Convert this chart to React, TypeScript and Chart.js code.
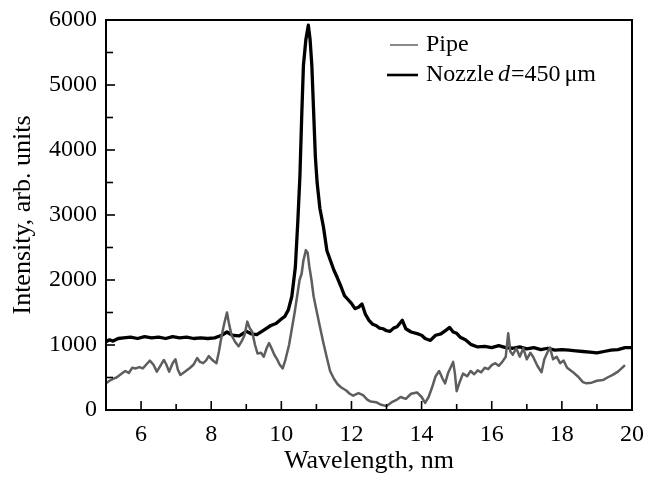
import React, { useEffect, useRef } from 'react';
import { Chart, registerables } from 'chart.js';
Chart.register(...registerables);

const pipeX = [5.0,5.1,5.2,5.3,5.45,5.55,5.65,5.75,5.85,5.95,6.05,6.15,6.25,6.35,6.45,6.55,6.65,6.72,6.8,6.9,6.98,7.05,7.12,7.25,7.4,7.5,7.6,7.68,7.77,7.85,7.93,8.05,8.15,8.22,8.3,8.38,8.45,8.5,8.58,8.68,8.78,8.87,8.95,9.03,9.1,9.17,9.25,9.32,9.42,9.5,9.58,9.65,9.72,9.8,9.88,9.95,10.04,10.12,10.22,10.3,10.38,10.45,10.52,10.58,10.63,10.7,10.75,10.8,10.86,10.92,11.0,11.1,11.2,11.3,11.39,11.5,11.6,11.7,11.85,11.95,12.05,12.2,12.33,12.45,12.55,12.7,12.85,13.0,13.15,13.3,13.4,13.55,13.7,13.87,14.0,14.1,14.2,14.3,14.4,14.5,14.6,14.67,14.75,14.85,14.9,14.95,15.0,15.08,15.18,15.3,15.4,15.5,15.6,15.7,15.8,15.9,16.0,16.1,16.2,16.3,16.4,16.47,16.53,16.6,16.7,16.8,16.9,17.0,17.1,17.18,17.3,17.42,17.5,17.6,17.66,17.75,17.85,17.95,18.05,18.15,18.3,18.45,18.6,18.7,18.85,19.0,19.17,19.3,19.45,19.6,19.74,19.8];
const pipeY = [410,450,480,500,560,600,570,650,640,660,640,700,760,700,590,680,770,700,590,720,780,620,540,590,650,700,800,740,720,760,830,760,720,900,1150,1350,1500,1350,1150,1050,980,1060,1150,1360,1260,1200,1000,870,880,820,950,1030,950,850,780,700,640,780,1000,1250,1500,1750,2000,2100,2300,2460,2420,2200,2000,1750,1540,1280,1030,800,600,480,400,350,300,250,220,260,230,160,130,120,80,60,120,160,200,170,250,270,200,110,200,350,520,600,480,410,560,680,740,560,290,420,560,520,600,550,610,580,650,630,690,720,680,740,820,1180,900,850,950,820,950,780,880,820,680,580,780,900,960,780,820,720,760,650,590,520,430,410,420,450,460,500,540,590,660,690];

const nozzleX = [5.0,5.1,5.2,5.35,5.5,5.7,5.9,6.1,6.3,6.5,6.7,6.9,7.1,7.3,7.5,7.7,7.9,8.1,8.3,8.45,8.6,8.8,9.0,9.15,9.3,9.5,9.7,9.85,10.0,10.1,10.2,10.3,10.4,10.47,10.53,10.58,10.63,10.7,10.77,10.82,10.87,10.92,10.97,11.02,11.1,11.2,11.3,11.4,11.5,11.6,11.7,11.8,11.9,12.0,12.1,12.2,12.3,12.4,12.5,12.6,12.7,12.8,12.9,13.0,13.1,13.2,13.3,13.45,13.55,13.7,13.9,14.0,14.1,14.25,14.4,14.55,14.7,14.8,14.9,15.0,15.1,15.25,15.4,15.6,15.8,16.0,16.2,16.4,16.6,16.8,17.0,17.2,17.4,17.6,17.8,18.0,18.2,18.4,18.6,18.8,19.0,19.2,19.4,19.6,19.8,20.0];
const nozzleY = [1050,1080,1060,1100,1110,1120,1100,1130,1110,1120,1100,1130,1110,1120,1100,1110,1100,1110,1150,1200,1150,1140,1210,1170,1160,1230,1300,1330,1400,1440,1540,1750,2200,2900,3600,4500,5300,5700,5920,5700,5300,4600,3900,3500,3100,2820,2450,2300,2150,2030,1900,1760,1700,1640,1560,1580,1630,1470,1380,1320,1300,1260,1250,1220,1210,1260,1280,1380,1250,1200,1170,1150,1100,1070,1150,1170,1230,1270,1200,1180,1120,1080,1010,970,980,960,990,960,950,970,940,960,930,950,920,930,920,910,900,890,880,900,920,930,960,960];

const seriesLabels = ['Pipe', 'Nozzle d=450 μm'];
const seriesColors = ['#5e5e5e', '#000000'];
const seriesWidths = [2.5, 3.3];

const xRange = [5, 20];
const yRange = [0, 6000];
const xStep = 1;
const yStep = 500;
const xTitle = 'Wavelength, nm';
const yTitle = 'Intensity, arb. units';

const FONT = "'Liberation Serif', 'Times New Roman', serif";

const framePlugin = {
  id: 'frame',
  afterDraw(chart: any) {
    const { ctx, chartArea: a, scales } = chart;
    ctx.save();
    ctx.strokeStyle = '#000';
    ctx.lineWidth = 2;
    ctx.strokeRect(a.left, a.top, a.right - a.left, a.bottom - a.top);
    ctx.lineWidth = 1.6;
    const xs = scales.x;
    xs.ticks.forEach((t: any) => {
      const px = xs.getPixelForValue(t.value);
      if (px <= a.left + 1 || px >= a.right - 1) return;
      const len = t.value % 2 === 0 ? 9 : 6;
      ctx.beginPath();
      ctx.moveTo(px, a.bottom);
      ctx.lineTo(px, a.bottom - len);
      ctx.stroke();
    });
    const ys = scales.y;
    ys.ticks.forEach((t: any) => {
      const py = ys.getPixelForValue(t.value);
      if (py <= a.top + 1 || py >= a.bottom - 1) return;
      const len = t.value % 1000 === 0 ? 9 : 7;
      ctx.beginPath();
      ctx.moveTo(a.left, py);
      ctx.lineTo(a.left + len, py);
      ctx.stroke();
    });
    // legend
    const ds = chart.data.datasets;
    const lineStarts = [a.right - 242, a.right - 245];
    const lineEnd = a.right - 214;
    const textX = a.right - 206;
    ds.forEach((d: any, i: number) => {
      const y = a.top + 25 + i * 30;
      ctx.strokeStyle = i === 0 ? '#8a8a8a' : d.borderColor;
      ctx.lineWidth = i === 0 ? 2 : 2.6;
      ctx.beginPath();
      ctx.moveTo(lineStarts[i], y);
      ctx.lineTo(lineEnd, y);
      ctx.stroke();
      ctx.fillStyle = '#000';
      ctx.textBaseline = 'middle';
      ctx.textAlign = 'left';
      const parts = String(d.label).split(' ');
      let x = textX;
      parts.forEach((p: string, k: number) => {
        if (p.startsWith('d=')) {
          ctx.font = `italic 24px ${FONT}`;
          ctx.fillText('d', x, y);
          x += ctx.measureText('d').width + 1;
          ctx.font = `24px ${FONT}`;
          const rest = p.slice(1);
          ctx.fillText(rest, x, y);
          x += ctx.measureText(rest).width + 4;
        } else {
          ctx.font = `24px ${FONT}`;
          ctx.fillText(p, x, y);
          x += ctx.measureText(p).width + (k === 0 ? 4 : 6);
        }
      });
    });
    ctx.restore();
  },
};

const zeroPad = (s: any) => {
  s.paddingTop = 0;
  s.paddingBottom = 0;
  s.paddingLeft = 0;
  s.paddingRight = 0;
};

export default function App() {
  const ref = useRef<HTMLCanvasElement | null>(null);
  useEffect(() => {
    document.body.style.margin = '0';
    const canvas = ref.current;
    if (!canvas) return;
    const chart = new Chart(canvas, {
      type: 'line',
      data: {
        datasets: [
          {
            label: seriesLabels[0],
            data: pipeX.map((x, i) => ({ x, y: pipeY[i] })),
            borderColor: seriesColors[0],
            borderWidth: seriesWidths[0],
            borderJoinStyle: 'round',
            pointRadius: 0,
            tension: 0,
          },
          {
            label: seriesLabels[1],
            data: nozzleX.map((x, i) => ({ x, y: nozzleY[i] })),
            borderColor: seriesColors[1],
            borderWidth: seriesWidths[1],
            borderJoinStyle: 'round',
            pointRadius: 0,
            tension: 0,
          },
        ],
      },
      options: {
        responsive: false,
        animation: false,
        layout: { padding: { top: 20, right: 14, left: 0, bottom: 0 } },
        plugins: { legend: { display: false }, tooltip: { enabled: false } },
        scales: {
          x: {
            type: 'linear',
            min: xRange[0],
            max: xRange[1],
            grid: { display: false, drawTicks: false },
            border: { display: false },
            ticks: {
              stepSize: xStep,
              autoSkip: false,
              maxRotation: 0,
              padding: 10,
              color: '#000',
              font: { family: FONT, size: 24 },
              callback: (v: any) => (Number(v) % 2 === 0 ? String(v) : ''),
            },
            title: {
              display: true,
              text: xTitle,
              color: '#000',
              font: { family: FONT, size: 26 },
              padding: { top: 0, bottom: 0 },
            },
            afterFit: (s: any) => { s.height = 67; zeroPad(s); },
          },
          y: {
            min: yRange[0],
            max: yRange[1],
            grid: { display: false, drawTicks: false },
            border: { display: false },
            ticks: {
              stepSize: yStep,
              autoSkip: false,
              padding: 9,
              color: '#000',
              font: { family: FONT, size: 24 },
              callback: (v: any) => (Number(v) % 1000 === 0 ? String(v) : ''),
            },
            title: {
              display: true,
              text: yTitle,
              color: '#000',
              font: { family: FONT, size: 26 },
              padding: { top: 8, bottom: 0 },
            },
            afterFit: (s: any) => { s.width = 106; zeroPad(s); },
          },
        },
      },
      plugins: [framePlugin],
    });
    return () => chart.destroy();
  }, []);
  return (
    <div style={{ width: 646, height: 477, background: '#fff' }}>
      <canvas ref={ref} width={646} height={477} style={{ display: 'block' }} />
    </div>
  );
}
